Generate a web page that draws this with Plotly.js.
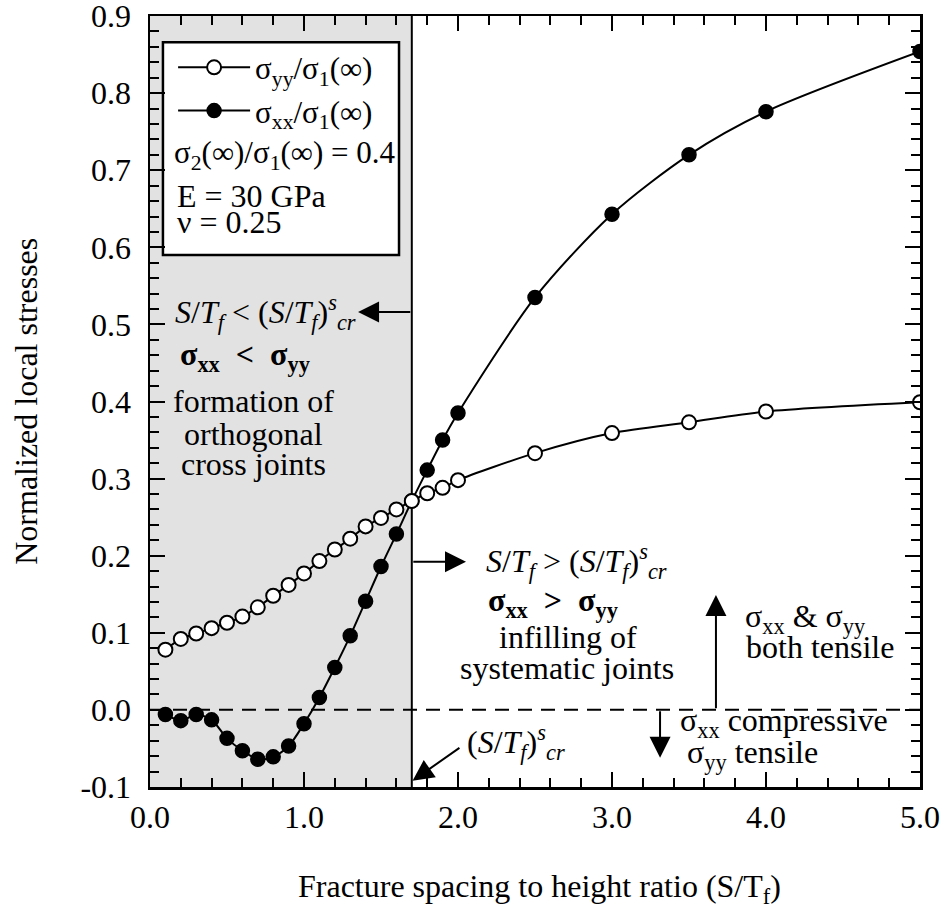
<!DOCTYPE html>
<html>
<head>
<meta charset="utf-8">
<script src="https://cdn.plot.ly/plotly-3.0.1.min.js"></script>
<style>
  html, body { margin: 0; padding: 0; background: #ffffff; }
  #chart { width: 945px; height: 909px; }
</style>
</head>
<body>
<div id="chart"></div>
<script>
// ---- data ----
const spacingRatio = [0.1, 0.2, 0.3, 0.4, 0.5, 0.6, 0.7, 0.8, 0.9, 1.0, 1.1, 1.2, 1.3, 1.4, 1.5, 1.6, 1.7, 1.8, 1.9, 2.0, 2.5, 3.0, 3.5, 4.0, 5.0];
const sigmaYY = [0.078, 0.092, 0.099, 0.106, 0.113, 0.121, 0.133, 0.148, 0.162, 0.177, 0.193, 0.208, 0.222, 0.238, 0.249, 0.260, 0.271, 0.281, 0.288, 0.298, 0.333, 0.359, 0.373, 0.387, 0.399];
const sigmaXX = [-0.006, -0.014, -0.006, -0.013, -0.037, -0.053, -0.064, -0.061, -0.047, -0.018, 0.016, 0.055, 0.096, 0.141, 0.186, 0.228, 0.271, 0.311, 0.350, 0.385, 0.535, 0.643, 0.720, 0.776, 0.854];
const criticalRatio = 1.7;
const seriesNames = ['σ<sub>yy</sub>/σ<sub>1</sub>(∞)', 'σ<sub>xx</sub>/σ<sub>1</sub>(∞)'];
const xTickVals = [0, 1, 2, 3, 4, 5];
const xTickText = ['0.0', '1.0', '2.0', '3.0', '4.0', '5.0'];
const yTickVals = [-0.1, 0.0, 0.1, 0.2, 0.3, 0.4, 0.5, 0.6, 0.7, 0.8, 0.9];
const yTickText = ['-0.1', '0.0', '0.1', '0.2', '0.3', '0.4', '0.5', '0.6', '0.7', '0.8', '0.9'];
const xTitle = 'Fracture spacing to height ratio (S/T<sub>f</sub>)';
const yTitle = 'Normalized local stresses';

const FONT = 'Liberation Serif, Times New Roman, serif';
const FS = 32;
const txt = (text, x, y, xanchor, extra) => Object.assign({
  text: text, x: x, y: y, xref: 'x', yref: 'y', xanchor: xanchor || 'left', yanchor: 'middle',
  showarrow: false, font: {family: FONT, size: FS, color: '#000'}
}, extra || {});
const arrow = (x, y, ax, ay) => ({
  text: '', x: x, y: y, ax: ax, ay: ay, xref: 'x', yref: 'y', axref: 'x', ayref: 'y',
  showarrow: true, arrowhead: 2, arrowsize: 2.1, arrowwidth: 2, arrowcolor: '#000', standoff: 0, startstandoff: 0
});
const crit = '(<i>S</i>/<i>T<sub>f</sub></i>)<sup><i>s</i></sup><sub><i>cr</i></sub>';

const traces = [
  {
    x: spacingRatio, y: sigmaXX, name: seriesNames[1], type: 'scatter', mode: 'lines+markers',
    line: {color: '#000', width: 2, shape: 'spline', smoothing: 0.8},
    marker: {symbol: 'circle', size: 14, color: '#000', line: {color: '#000', width: 1.5}},
    legendrank: 2
  },
  {
    x: spacingRatio, y: sigmaYY, name: seriesNames[0], type: 'scatter', mode: 'lines+markers',
    line: {color: '#000', width: 2, shape: 'spline', smoothing: 0.8},
    marker: {symbol: 'circle', size: 14, color: '#fff', line: {color: '#000', width: 2}},
    legendrank: 1
  }
];

const layout = {
  width: 945, height: 909,
  margin: {l: 150, r: 25, t: 16, b: 122},
  paper_bgcolor: '#fff', plot_bgcolor: '#fff',
  font: {family: FONT, size: FS, color: '#000'},
  showlegend: true,
  legend: {
    x: 0.03, y: 0.968, xanchor: 'left', yanchor: 'top',
    bgcolor: 'rgba(0,0,0,0)', borderwidth: 0, itemwidth: 72,
    font: {family: FONT, size: 31, color: '#000'}, tracegroupgap: 0
  },
  xaxis: {
    range: [0, 5], tickmode: 'array', tickvals: xTickVals, ticktext: xTickText,
    ticks: 'inside', ticklen: 15, tickwidth: 2, tickcolor: '#000', ticklabeloverflow: 'allow',
    minor: {ticks: 'inside', dtick: 0.2, tick0: 0, ticklen: 9, tickwidth: 2, tickcolor: '#000'},
    showline: true, linewidth: 2.5, linecolor: '#000', mirror: 'ticks',
    showgrid: false, zeroline: false, fixedrange: true,
    tickfont: {family: FONT, size: FS, color: '#000'}
  },
  yaxis: {
    range: [-0.1001, 0.9001], tickmode: 'array', tickvals: yTickVals, ticktext: yTickText,
    ticks: 'inside', ticklen: 15, tickwidth: 2, tickcolor: '#000', ticklabelstandoff: 10,
    ticklabeloverflow: 'allow',
    minor: {ticks: 'inside', dtick: 0.02, tick0: 0, ticklen: 9, tickwidth: 2, tickcolor: '#000'},
    showline: true, linewidth: 2.5, linecolor: '#000', mirror: 'ticks',
    showgrid: false, zeroline: false, fixedrange: true,
    tickfont: {family: FONT, size: FS, color: '#000'}
  },
  shapes: [
    {type: 'rect', xref: 'x', yref: 'y', x0: 0, x1: criticalRatio, y0: -0.1001, y1: 0.9001,
     fillcolor: '#e2e2e2', line: {width: 0}, layer: 'below'},
    {type: 'rect', xref: 'x', yref: 'y', x0: 0.084, x1: 1.617, y0: 0.590, y1: 0.866,
     fillcolor: '#fff', line: {color: '#000', width: 2.5}, layer: 'below'},
    {type: 'line', xref: 'x', yref: 'y', x0: 0, x1: 5, y0: 0, y1: 0,
     line: {color: '#000', width: 2, dash: '14px,9px'}, layer: 'below'},
    {type: 'line', xref: 'x', yref: 'y', x0: criticalRatio, x1: criticalRatio, y0: -0.1001, y1: 0.9001,
     line: {color: '#000', width: 2}, layer: 'below'}
  ],
  annotations: [
    // axis titles
    {text: yTitle, xref: 'paper', yref: 'paper', x: -0.162, y: 0.5, textangle: -90,
     xanchor: 'center', yanchor: 'middle', showarrow: false, font: {family: FONT, size: FS, color: '#000'}},
    {text: xTitle, xref: 'paper', yref: 'paper', x: 0.506, y: -0.131,
     xanchor: 'center', yanchor: 'middle', showarrow: false, font: {family: FONT, size: FS, color: '#000'}},
    // legend box texts
    txt('σ<sub>2</sub>(∞)/σ<sub>1</sub>(∞) = 0.4', 0.143, 0.720, 'left', {font: {family: FONT, size: 31, color: '#000'}}),
    txt('E = 30 GPa', 0.162, 0.667),
    txt('ν = 0.25', 0.162, 0.633),
    // shaded region
    txt('<i>S</i>/<i>T<sub>f</sub></i> &lt; ' + crit, 0.149, 0.516),
    arrow(1.351, 0.516, criticalRatio, 0.516),
    txt('<b>σ<sub>xx</sub>  &lt;  σ<sub>yy</sub></b>', 0.182, 0.458),
    txt('formation of', 0.669, 0.401, 'center'),
    txt('orthogonal', 0.669, 0.358, 'center'),
    txt('cross joints', 0.669, 0.319, 'center'),
    // right region
    arrow(2.052, 0.192, criticalRatio, 0.192),
    txt('<i>S</i>/<i>T<sub>f</sub></i> &gt; ' + crit, 2.169, 0.192),
    txt('<b>σ<sub>xx</sub>  &gt;  σ<sub>yy</sub></b>', 2.182, 0.139),
    txt('infilling of', 2.714, 0.095, 'center'),
    txt('systematic joints', 2.708, 0.054, 'center'),
    arrow(3.675, 0.149, 3.675, 0.0),
    txt('σ<sub>xx</sub> &amp; σ<sub>yy</sub>', 3.851, 0.119),
    txt('both tensile', 3.857, 0.082),
    arrow(3.312, -0.062, 3.312, 0.0),
    txt('σ<sub>xx</sub> compressive', 3.429, -0.017),
    txt('σ<sub>yy</sub> tensile', 3.474, -0.058),
    txt(crit, 2.045, -0.043),
    arrow(1.705, -0.092, 2.019, -0.048)
  ]
};

Plotly.newPlot('chart', traces, layout, {displayModeBar: false, staticPlot: true});
</script>
</body>
</html>
